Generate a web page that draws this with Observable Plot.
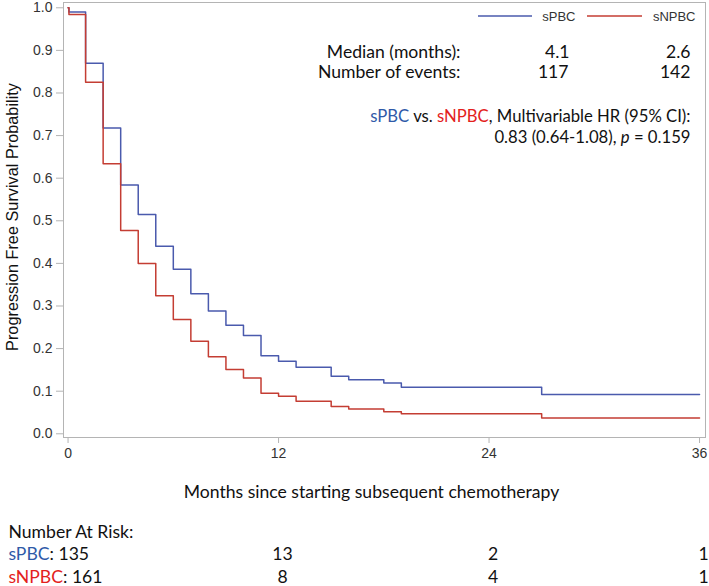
<!DOCTYPE html>
<html><head><meta charset="utf-8">
<script src="https://cdn.jsdelivr.net/npm/d3@7"></script>
<script src="https://cdn.jsdelivr.net/npm/@observablehq/plot@0.6"></script>
<style>body{margin:0;background:#fff}</style>
</head><body><div id="chart"></div>
<script>
// ---- data ----
const seriesNames = ["sPBC", "sNPBC"];
const months = [0, 0.05, 1, 2, 3, 4, 5, 6, 7, 8, 9, 10, 11, 12, 13, 15, 16, 18, 19, 27, 36];
const sPBC  = [1, 0.99, 0.87, 0.718, 0.584, 0.515, 0.44, 0.386, 0.329, 0.288, 0.255, 0.231, 0.183, 0.170, 0.156, 0.135, 0.127, 0.119, 0.109, 0.092, 0.092];
const sNPBC = [1, 0.984, 0.825, 0.634, 0.477, 0.400, 0.324, 0.268, 0.217, 0.181, 0.151, 0.131, 0.095, 0.088, 0.0765, 0.064, 0.058, 0.052, 0.047, 0.037, 0.037];
const xTicks = [0, 12, 24, 36];
const yTicks = [0, 0.1, 0.2, 0.3, 0.4, 0.5, 0.6, 0.7, 0.8, 0.9, 1.0];
const medians = ["4.1", "2.6"];
const events = ["117", "142"];
const hrText = "0.83 (0.64-1.08), ";
const pText = " = 0.159";
const riskTimes = [0, 12, 24, 36];
const riskSPBC = [135, 13, 2, 1];
const riskSNPBC = [161, 8, 4, 1];

// ---- styles ----
const blue = "#4a5aad", red = "#c43d33";
const textBlue = "#2f5aa8", textRed = "#e3211c";
const calibri = "Lato, 'Open Sans', sans-serif";
const arial = "'Liberation Sans', Arial, sans-serif";
const axisGrey = "#b4b4b4";

const rows = months.flatMap((t, i) => [
  {t, s: sPBC[i], g: seriesNames[0]},
  {t, s: sNPBC[i], g: seriesNames[1]}
]);

function label(text, o) {
  return Plot.text([text], {text: d => d, fill: "#111", ...o});
}

const calSize = 17.6;
const hrSize = 16.7;
const hrTitle = "sPBC vs. sNPBC, Multivariable HR (95% CI):";
const hrValue = hrText + "p" + pText;
const riskA = `${seriesNames[0]}: ${riskSPBC[0]}`;
const riskB = `${seriesNames[1]}: ${riskSNPBC[0]}`;

const chart = Plot.plot({
  width: 709, height: 586,
  marginLeft: 63, marginRight: 4, marginTop: 2, marginBottom: 149,
  style: {fontFamily: arial, fontSize: "14px", background: "white"},
  x: {domain: [-0.26, 36.34]},
  y: {domain: [-0.0087, 1.0124]},
  color: {domain: seriesNames, range: [blue, red]},
  marks: [
    Plot.frame({stroke: axisGrey}),
    Plot.axisX({ticks: xTicks, tickSize: 6, tickPadding: 5, stroke: axisGrey, fill: "#333", label: null, fontSize: 14}),
    Plot.axisY({ticks: yTicks, tickFormat: d3.format(".1f"), tickSize: 7, tickPadding: 4, stroke: axisGrey, fill: "#333", label: null, fontSize: 14}),
    Plot.line(rows, {x: "t", y: "s", z: "g", stroke: "g", curve: "step-after", strokeWidth: 1.5}),
    // y axis title
    label("Progression Free Survival Probability", {frameAnchor: "left", rotate: -90, dx: -51, dy: -3, textAnchor: "middle", lineAnchor: "middle", fontFamily: arial, fontSize: 16.3}),
    // x axis title
    label("Months since starting subsequent chemotherapy", {frameAnchor: "bottom", dx: -13, dy: 55, textAnchor: "middle", lineAnchor: "middle", fontFamily: calibri, fontSize: calSize}),
    // legend labels
    label(seriesNames[0], {frameAnchor: "top-right", dx: -130, dy: 14, textAnchor: "end", lineAnchor: "middle", fontFamily: arial, fontSize: 13, fill: "#333"}),
    label(seriesNames[1], {frameAnchor: "top-right", dx: -10, dy: 14, textAnchor: "end", lineAnchor: "middle", fontFamily: arial, fontSize: 13, fill: "#333"}),
    // stats
    label("Median (months):", {frameAnchor: "top-right", dx: -245, dy: 50, textAnchor: "end", lineAnchor: "middle", fontFamily: calibri, fontSize: calSize}),
    label(medians[0], {frameAnchor: "top-right", dx: -136, dy: 50, textAnchor: "end", lineAnchor: "middle", fontFamily: calibri, fontSize: calSize}),
    label(medians[1], {frameAnchor: "top-right", dx: -15, dy: 50, textAnchor: "end", lineAnchor: "middle", fontFamily: calibri, fontSize: calSize}),
    label("Number of events:", {frameAnchor: "top-right", dx: -245, dy: 70, textAnchor: "end", lineAnchor: "middle", fontFamily: calibri, fontSize: calSize}),
    label(events[0], {frameAnchor: "top-right", dx: -137, dy: 70, textAnchor: "end", lineAnchor: "middle", fontFamily: calibri, fontSize: calSize}),
    label(events[1], {frameAnchor: "top-right", dx: -15, dy: 70, textAnchor: "end", lineAnchor: "middle", fontFamily: calibri, fontSize: calSize}),
    label(hrTitle, {frameAnchor: "top-right", dx: -15, dy: 114, textAnchor: "end", lineAnchor: "middle", fontFamily: calibri, fontSize: hrSize}),
    label(hrValue, {frameAnchor: "top-right", dx: -15, dy: 135, textAnchor: "end", lineAnchor: "middle", fontFamily: calibri, fontSize: hrSize}),
    // number at risk
    label("Number At Risk:", {frameAnchor: "bottom-left", dx: -55, dy: 95, textAnchor: "start", lineAnchor: "middle", fontFamily: calibri, fontSize: calSize}),
    label(riskA, {frameAnchor: "bottom-left", dx: -55, dy: 117, textAnchor: "start", lineAnchor: "middle", fontFamily: calibri, fontSize: calSize}),
    label(riskB, {frameAnchor: "bottom-left", dx: -55, dy: 140, textAnchor: "start", lineAnchor: "middle", fontFamily: calibri, fontSize: calSize}),
    Plot.text(riskTimes.slice(1).map((t, i) => ({t, n: riskSPBC[i + 1]})), {x: "t", text: "n", frameAnchor: "bottom", dx: 4, dy: 117, lineAnchor: "middle", fontFamily: calibri, fontSize: calSize, fill: "#111"}),
    Plot.text(riskTimes.slice(1).map((t, i) => ({t, n: riskSNPBC[i + 1]})), {x: "t", text: "n", frameAnchor: "bottom", dx: 4, dy: 140, lineAnchor: "middle", fontFamily: calibri, fontSize: calSize, fill: "#111"})
  ]
});

// rich text: colour / italic parts, matched by text content
function rich(content, parts) {
  d3.select(chart).selectAll("text").filter(function () { return this.textContent === content; }).each(function () {
    const t = d3.select(this);
    t.text(null);
    for (const [s, c, it] of parts) {
      const ts = t.append("tspan").text(s);
      if (c) ts.attr("fill", c);
      if (it) ts.attr("font-style", "italic");
    }
  });
}
rich(hrTitle, [[seriesNames[0], textBlue], [" vs. "], [seriesNames[1], textRed], [", Multivariable HR (95% CI):"]]);
rich(hrValue, [[hrText], ["p", null, true], [pText]]);
rich(riskA, [[seriesNames[0], textBlue], [": " + riskSPBC[0]]]);
rich(riskB, [[seriesNames[1], textRed], [": " + riskSNPBC[0]]]);

// legend swatches
const frameRight = 705, legendY = 16;
const swatches = [{x1: frameRight - 227, x2: frameRight - 173, c: blue}, {x1: frameRight - 118, x2: frameRight - 63, c: red}];
d3.select(chart).append("g").attr("aria-label", "legend")
  .selectAll("line").data(swatches).join("line")
  .attr("x1", d => d.x1).attr("x2", d => d.x2)
  .attr("y1", legendY).attr("y2", legendY)
  .attr("stroke", d => d.c).attr("stroke-width", 1.5);

document.getElementById("chart").append(chart);
</script>
</body></html>
